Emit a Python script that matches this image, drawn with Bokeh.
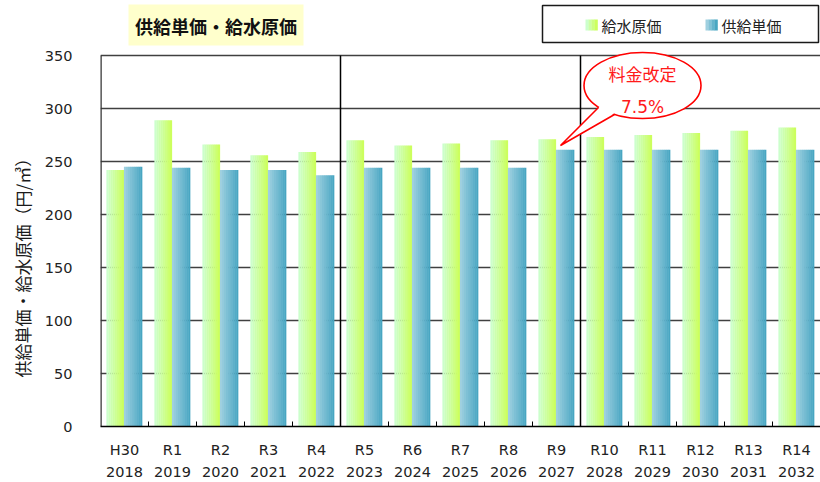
import math
from bokeh.plotting import figure
from bokeh.models import Range1d, FixedTicker, LinearAxis, Title, ColumnDataSource
from bokeh.embed import file_html
from bokeh.resources import INLINE
from bokeh.core.properties import value

# ---------------- data ----------------
wareki = ["H30", "R1", "R2", "R3", "R4", "R5", "R6", "R7", "R8", "R9",
          "R10", "R11", "R12", "R13", "R14"]
years = ["2018", "2019", "2020", "2021", "2022", "2023", "2024", "2025",
         "2026", "2027", "2028", "2029", "2030", "2031", "2032"]
kyusui_genka = [242, 289, 266, 256, 259, 270, 265, 267, 270, 271, 273, 275, 277, 279, 282]
kyokyu_tanka = [245, 244, 242, 242, 237, 244, 244, 244, 244, 261, 261, 261, 261, 261, 261]
series_names = ["給水原価", "供給単価"]
era_breaks = ["R5", "R10"]
y_ticks = [0, 50, 100, 150, 200, 250, 300, 350]
chart_title = "供給単価・給水原価"
y_title = "供給単価・給水原価（円/㎥）"
callout_lines = ["料金改定", "7.5%"]

# ---------------- layout helpers (pixel -> data for annotations) ----------------
W, H = 820, 482
LEFT, BOTTOM = 100, 426
n = len(wareki)
PX_X = (W - LEFT) / n            # px per category
PX_Y = (BOTTOM - 55) / 350.0     # px per unit


def dx(px):
    return (px - LEFT) / PX_X


def dy(py):
    return (BOTTOM - py) / PX_Y


p = figure(width=W, height=H, output_backend="svg", toolbar_location=None,
           x_range=Range1d(0, n), y_range=Range1d(0, dy(0)),
           min_border_left=LEFT, min_border_right=0, min_border_top=0,
           min_border_bottom=H - BOTTOM)
p.outline_line_color = None
p.background_fill_color = "white"
p.border_fill_color = "white"
p.xgrid.visible = False
p.ygrid.ticker = FixedTicker(ticks=y_ticks)
p.ygrid.grid_line_color = "#404040"
p.ygrid.grid_line_width = 1.3


def hx(c):
    return tuple(int(c[i:i + 2], 16) for i in (1, 3, 5))


def lerp(c1, c2, t):
    a, b = hx(c1), hx(c2)
    return "#%02x%02x%02x" % tuple(round(a[i] + (b[i] - a[i]) * t) for i in range(3))


NS = 9
series = [
    (kyusui_genka, 0.125, 0.365, "#ccffcc", "#ccff5e"),
    (kyokyu_tanka, 0.49, 0.38, "#9fd0e0", "#48a6c2"),
]
for vals, start, w, c0, c1 in series:
    sw = w / NS
    for k in range(NS):
        src = ColumnDataSource(dict(
            x=[i + start + (k + 0.5) * sw for i in range(n)], top=vals))
        p.vbar(x="x", top="top", bottom=0, width=sw * 1.1, source=src,
               fill_color=lerp(c0, c1, k / (NS - 1)), line_color=None)

# era separators
sep_x = [wareki.index(b) for b in era_breaks]
p.segment(x0=sep_x, y0=[0] * len(sep_x), x1=sep_x, y1=[y_ticks[-1]] * len(sep_x),
          line_color="black", line_width=1.5)
# left axis line
p.segment(x0=[0], y0=[0], x1=[0], y1=[y_ticks[-1]], line_color="#333333", line_width=2.5)

# axes
centers = [i + 0.5 for i in range(n)]
p.xaxis.ticker = FixedTicker(ticks=centers, minor_ticks=list(range(1, n)))
p.xaxis.major_label_overrides = {c: t for c, t in zip(centers, wareki)}
p.xaxis.major_tick_line_color = None
p.xaxis.minor_tick_in = 5
p.xaxis.minor_tick_out = 0
p.xaxis.minor_tick_line_color = "black"
p.xaxis.axis_line_color = "black"
p.xaxis.axis_line_width = 1.5
p.xaxis.major_label_standoff = 9

ax2 = LinearAxis(ticker=FixedTicker(ticks=centers),
                 major_label_overrides={c: t for c, t in zip(centers, years)},
                 axis_line_color=None, major_tick_line_color=None,
                 minor_tick_line_color=None, major_label_standoff=0)
p.add_layout(ax2, "below")

for ax in (p.xaxis[0], ax2):
    ax.major_label_text_font = "DejaVu Sans"
    ax.major_label_text_font_size = "14.5px"
    ax.major_label_text_color = "#222222"

p.yaxis.ticker = FixedTicker(ticks=y_ticks)
p.yaxis.axis_line_color = None
p.yaxis.major_tick_line_color = None
p.yaxis.minor_tick_line_color = None
p.yaxis.major_label_standoff = 22
p.yaxis.major_label_text_font = "DejaVu Sans"
p.yaxis.major_label_text_font_size = "14.5px"
p.yaxis.major_label_text_color = "#222222"

# y axis title (as a side title so it sits left of the tick labels)
p.add_layout(Title(text=y_title, align="left", offset=49, standoff=14,
                   text_font="Noto Sans CJK JP", text_font_size="17px",
                   text_font_style="normal", text_color="#1a1a1a"), "left")

JP = value("Noto Sans CJK JP")

# chart title box
p.quad(left=[dx(128)], right=[dx(303)], bottom=[dy(45)], top=[dy(4)],
       fill_color="#ffffcc", line_color=None)
p.text(x=[dx(215.5)], y=[dy(25)], text=[chart_title], text_font=JP,
       text_font_size="18px", text_font_style="bold", text_align="center",
       text_baseline="middle", text_color="#111111")

# legend box
p.quad(left=[dx(542)], right=[dx(818)], bottom=[dy(42)], top=[dy(5)],
       fill_color="white", line_color="#1a1a1a", line_width=1.5)
sw_px = [585, 705]
for (vals, start, w, c0, c1), name, sx in zip(series, series_names, sw_px):
    for k in range(4):
        p.quad(left=[dx(sx + 3 * k)], right=[dx(sx + 3 * k + 3.3)],
               bottom=[dy(30)], top=[dy(19)],
               fill_color=lerp(c0, c1, k / 3), line_color=None)
    p.text(x=[dx(sx + 16)], y=[dy(24.5)], text=[name], text_font=JP,
           text_font_size="15px", text_align="left", text_baseline="middle",
           text_color="#222222")

# callout
cx, cy = 642, 85
p.ellipse(x=[dx(cx)], y=[dy(cy)], width=117 / PX_X, height=66 / PX_Y,
          fill_color="white", line_color="red", line_width=1.6)
tail = [(598, 107), (560, 145), (614, 114)]
p.patch(x=[dx(598.8), dx(560), dx(613.2), dx(615), dx(605)],
        y=[dy(106.4), dy(145), dy(113.2), dy(100), dy(99)],
        fill_color="white", line_color=None)
p.line(x=[dx(a) for a, b in tail], y=[dy(b) for a, b in tail],
       line_color="red", line_width=1.6)
p.text(x=[dx(cx)], y=[dy(73)], text=[callout_lines[0]], text_font=JP,
       text_font_size="17px", text_align="center", text_baseline="middle",
       text_color="#ff1a1a")
p.text(x=[dx(cx)], y=[dy(106)], text=[callout_lines[1]], text_font=value("DejaVu Sans"),
       text_font_size="17px", text_align="center", text_baseline="middle",
       text_color="#ff1a1a")

open("out.html", "w").write(file_html(p, INLINE))
